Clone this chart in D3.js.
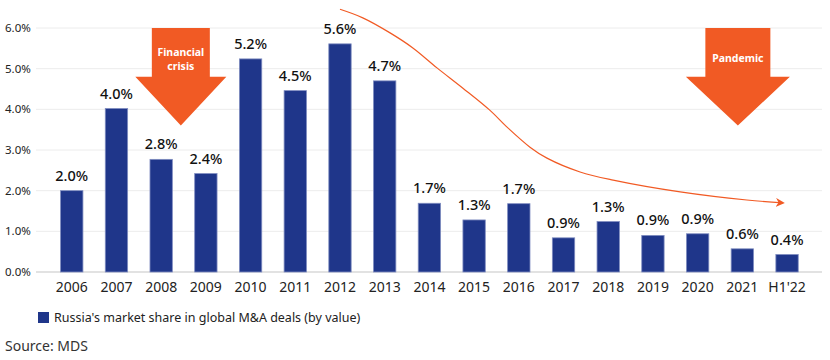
<!DOCTYPE html>
<html><head><meta charset="utf-8">
<script src="https://cdn.jsdelivr.net/npm/d3@7"></script>
<style>
body{margin:0;background:#fff;}
svg{display:block;font-family:"Noto Sans",sans-serif;}
</style></head>
<body><svg id="c" width="830" height="360"></svg>
<script>
const categories = ["2006","2007","2008","2009","2010","2011","2012","2013","2014","2015","2016","2017","2018","2019","2020","2021","H1'22"];
const values = [2.0,4.02,2.77,2.42,5.24,4.46,5.61,4.70,1.69,1.28,1.68,0.84,1.24,0.90,0.94,0.57,0.43];
const valueLabels = ["2.0%","4.0%","2.8%","2.4%","5.2%","4.5%","5.6%","4.7%","1.7%","1.3%","1.7%","0.9%","1.3%","0.9%","0.9%","0.6%","0.4%"];
const yTicks = [0,1,2,3,4,5,6];
const seriesName = "Russia's market share in global M&A deals (by value)";
const source = "Source: MDS";
// annotation arrows: [category index position, label lines]
const arrows = [
  {pos: 2.44, lines: ["Financial","crisis"]},
  {pos: 14.9, lines: ["Pandemic"]}
];
// trend curve, in (category index, value) space
const trend = [[6.0,6.46],[6.51,6.25],[7.12,5.88],[7.63,5.51],[8.17,5.02],[8.75,4.52],[9.35,3.98],[9.73,3.57],[10.25,3.07],[10.63,2.80],[11.37,2.46],[12.11,2.26],[13.61,1.97],[15.10,1.77],[15.91,1.70]];

const svg = d3.select("#c");
const orange = "#F15A24", blue = "#1F368A";

const x = d3.scaleBand().domain(categories).range([49.4, 809.4]).paddingInner(0.5).paddingOuter(0.25);
const y = d3.scaleLinear().domain([0,6]).range([272,28]);
const xi = i => x(categories[0]) + x.bandwidth()/2 + i * x.step();

// gridlines
svg.append("g").selectAll("line").data(yTicks).join("line")
  .attr("x1",36).attr("x2",822).attr("y1",d=>y(d)).attr("y2",d=>y(d))
  .attr("stroke",d=>d===0?"#d9d9d9":"#ececec").attr("stroke-width",d=>d===0?1.5:1);

// y axis labels
svg.append("g").selectAll("text").data(yTicks).join("text")
  .attr("x",5).attr("y",d=>y(d)).attr("dy","0.35em")
  .attr("font-size",11.5).attr("fill","#222").text(d=>d.toFixed(1)+"%");

// bars
svg.append("g").selectAll("rect").data(values).join("rect")
  .attr("x",(d,i)=>x(categories[i])).attr("width",x.bandwidth())
  .attr("y",d=>y(d)).attr("height",d=>y(0)-y(d))
  .attr("fill",blue).attr("stroke","#7f8cc0").attr("stroke-width",0.8);

// value labels
svg.append("g").selectAll("text").data(values).join("text")
  .attr("x",(d,i)=>x(categories[i])+x.bandwidth()/2).attr("y",d=>y(d)-10)
  .attr("text-anchor","middle").attr("font-size",14.5).attr("font-weight",500).attr("fill","#111")
  .text((d,i)=>valueLabels[i]);

// x labels
svg.append("g").selectAll("text").data(categories).join("text")
  .attr("x",d=>x(d)+x.bandwidth()/2).attr("y",292)
  .attr("text-anchor","middle").attr("font-size",14).attr("fill","#222").text(d=>d);

// arrows
arrows.forEach(a=>{
  const cx = xi(a.pos);
  const top = y(6), shaftB = y(4.8), tip = y(3.6);
  const sw = a.lines.length>1 ? 29 : 32.5, hw = a.lines.length>1 ? 45.5 : 52;
  const p = d3.path();
  p.moveTo(cx-sw,top); p.lineTo(cx+sw,top); p.lineTo(cx+sw,shaftB); p.lineTo(cx+hw,shaftB);
  p.lineTo(cx,tip); p.lineTo(cx-hw,shaftB); p.lineTo(cx-sw,shaftB); p.closePath();
  svg.append("path").attr("d",p.toString()).attr("fill",orange);
  const y0 = a.lines.length>1 ? 56 : 62;
  a.lines.forEach((l,k)=>svg.append("text").attr("text-anchor","middle").attr("fill","#fff")
    .attr("font-size",10.5).attr("font-weight",700)
    .attr("x",cx).attr("y",y0+k*14).text(l));
});

// trend curve
svg.append("defs").append("marker").attr("id","ah").attr("viewBox","0 0 10 10")
  .attr("refX",8).attr("refY",5).attr("markerWidth",9).attr("markerHeight",9)
  .attr("markerUnits","userSpaceOnUse").attr("orient","auto")
  .append("path").attr("d","M0,0 L10,5 L0,10 L3,5 Z").attr("fill",orange);
svg.append("path").datum(trend)
  .attr("d",d3.line().x(d=>xi(d[0])).y(d=>y(d[1])).curve(d3.curveCatmullRom.alpha(0.5)))
  .attr("fill","none").attr("stroke",orange).attr("stroke-width",1.2).attr("marker-end","url(#ah)");

// legend
svg.append("rect").attr("x",38).attr("y",312).attr("width",11).attr("height",11).attr("fill",blue);
svg.append("text").attr("x",54).attr("y",322).attr("font-size",12.5).attr("fill","#222").text(seriesName);
svg.append("text").attr("x",5).attr("y",351).attr("font-size",14).attr("fill","#333").text(source);
</script></body></html>
